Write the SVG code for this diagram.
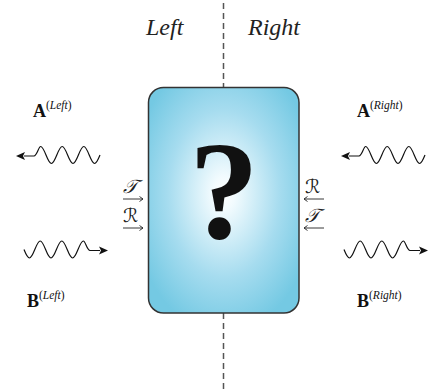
<svg xmlns="http://www.w3.org/2000/svg" width="429" height="392" viewBox="0 0 429 392">
<style>
.lbl{font-family:"Liberation Serif","Times New Roman",serif;fill:#111}
.big{font-weight:bold;font-size:18px}
.sup{font-size:11.5px}
.it{font-style:italic}
.side{font-family:"Liberation Serif","Times New Roman",serif;font-style:italic;font-size:24px;fill:#222}
.wave{fill:none;stroke:#111;stroke-width:1.2}
.thin{fill:none;stroke:#222;stroke-width:0.9}
.script{font-family:"DejaVu Serif","DejaVu Sans",serif;font-style:italic;font-size:19px;fill:#222}
</style>
<defs>
<radialGradient id="bg" cx="0.5" cy="0.47" r="0.62">
<stop offset="0" stop-color="#ffffff"/>
<stop offset="0.12" stop-color="#f2fbfe"/>
<stop offset="0.6" stop-color="#a6dcef"/>
<stop offset="1" stop-color="#74c9e3"/>
</radialGradient>
<g id="waveR">
<path class="wave" d="M0,0 c1.76,4.35 3.68,8.5 5.4,8.5 c1.72,0 3.64,-4.15 5.4,-8.5 c1.76,-4.35 3.68,-8.5 5.4,-8.5 c1.72,0 3.64,4.15 5.4,8.5 c1.76,4.35 3.68,8.5 5.4,8.5 c1.72,0 3.64,-4.15 5.4,-8.5 c1.76,-4.35 3.68,-8.5 5.4,-8.5 c1.72,0 3.64,4.15 5.4,8.5 c1.76,4.35 3.68,8.5 5.4,8.5 c1.72,0 3.64,-4.15 5.4,-8.5 c1.76,-4.35 3.68,-8.5 5.4,-8.5 c2,0 3.6,9.5 6.6,9.5 h10"/>
<path d="M84,1 L75,-3 L77,1 L75,5 Z" fill="#111"/>
</g>
</defs>

<g id="divider">
<line x1="223.5" y1="3" x2="223.5" y2="392" stroke="#555" stroke-width="1.5" stroke-dasharray="6 4"/>
</g>

<g id="side-labels">
<text class="side" x="146" y="35">Left</text>
<text class="side" x="248" y="35">Right</text>
</g>

<g id="box">
<rect x="148.5" y="87.5" width="150.5" height="225.5" rx="15" ry="15" fill="url(#bg)" stroke="#333" stroke-width="1.5"/>
<text x="224" y="238" text-anchor="middle" font-family="Liberation Serif, Times New Roman, serif" font-weight="bold" font-size="140" fill="#111">?</text>
</g>

<g id="A-left">
<text class="lbl" x="33" y="117"><tspan class="big">A</tspan><tspan class="sup" dy="-8">(<tspan class="it">Left</tspan>)</tspan></text>
<use href="#waveR" transform="translate(100,155) scale(-1,1)"/>
</g>
<g id="A-right">
<text class="lbl" x="357" y="117"><tspan class="big">A</tspan><tspan class="sup" dy="-8">(<tspan class="it">Right</tspan>)</tspan></text>
<use href="#waveR" transform="translate(425,155) scale(-1,1)"/>
</g>
<g id="B-left">
<use href="#waveR" transform="translate(24,249.5)"/>
<text class="lbl" x="27" y="307"><tspan class="big">B</tspan><tspan class="sup" dy="-8">(<tspan class="it">Left</tspan>)</tspan></text>
</g>
<g id="B-right">
<use href="#waveR" transform="translate(344,249.5)"/>
<text class="lbl" x="357" y="307"><tspan class="big">B</tspan><tspan class="sup" dy="-8">(<tspan class="it">Right</tspan>)</tspan></text>
</g>

<g id="TR-left">
<text class="script" x="123" y="193">𝒯</text>
<path class="thin" d="M123,199 H143 M139.5,196.5 L143,199 L139.5,201.5"/>
<text class="script" x="123" y="222">ℛ</text>
<path class="thin" d="M123,228 H143 M139.5,225.5 L143,228 L139.5,230.5"/>
</g>
<g id="TR-right">
<text class="script" x="305" y="193">ℛ</text>
<path class="thin" d="M304,199 H324 M307.5,196.5 L304,199 L307.5,201.5"/>
<text class="script" x="305" y="222">𝒯</text>
<path class="thin" d="M304,228 H324 M307.5,225.5 L304,228 L307.5,230.5"/>
</g>
</svg>
